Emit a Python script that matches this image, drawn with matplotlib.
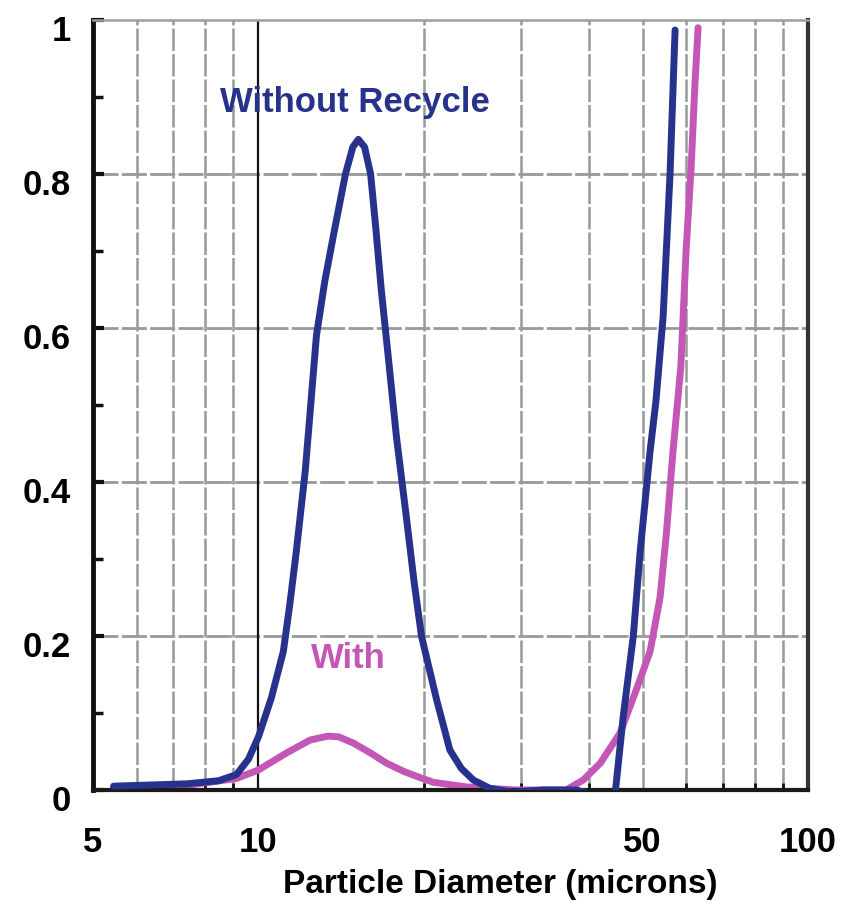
import matplotlib
matplotlib.use("Agg")
import matplotlib.pyplot as plt
import matplotlib.transforms as mtransforms
from matplotlib.ticker import FixedLocator, NullFormatter, FixedFormatter

plt.rcParams['font.family'] = ['Liberation Sans', 'DejaVu Sans']
plt.rcParams['font.weight'] = 'bold'

# Data
without_x = [5.45, 7.4, 8.46, 9.12, 9.59, 10.0, 10.56, 11.1, 11.4, 11.72, 12.17, 12.75, 13.2,
             13.69, 14.4, 14.85, 15.2, 15.6, 16.0, 16.35, 16.73, 17.3, 17.82, 18.58, 19.2,
             19.8, 21.1, 22.3, 23.4, 24.6, 26.4, 29.1, 32.9, 37.9, 40.5, 41.9, 43.5, 44.6,
             46.1, 48.1, 49.5, 51.6, 52.9, 54.5, 56.1, 57.3]
without_y = [0.005, 0.008, 0.012, 0.02, 0.04, 0.069, 0.12, 0.18, 0.24, 0.31, 0.415, 0.59, 0.66,
             0.72, 0.80, 0.835, 0.845, 0.835, 0.80, 0.73, 0.65, 0.55, 0.46, 0.355, 0.27,
             0.20, 0.117, 0.052, 0.028, 0.013, 0.002, -0.003, 0.0, 0.0, -0.006, -0.01, -0.01,
             -0.003, 0.095, 0.2, 0.31, 0.44, 0.506, 0.615, 0.80, 0.987]

with_x = [5.45, 7.4, 9.12, 10.0, 11.24, 12.43, 13.4, 14.0, 14.88, 16.0, 17.09, 18.4, 19.7,
          20.8, 23.9, 29.4, 36.3, 39.0, 41.9, 45.5, 48.7, 51.6, 53.8, 55.2, 56.8,
          58.7, 60.0, 61.3, 62.3, 63.1]
with_y = [0.003, 0.006, 0.015, 0.026, 0.048, 0.065, 0.07, 0.069, 0.061, 0.048, 0.035, 0.024,
          0.016, 0.01, 0.004, 0.0, 0.0, 0.013, 0.035, 0.074, 0.13, 0.18, 0.25, 0.33, 0.44,
          0.55, 0.70, 0.81, 0.92, 0.99]

x_major = [5, 10, 50, 100]
x_major_labels = ['5', '10', '50', '100']
x_grid = [6, 7, 8, 9, 20, 30, 40, 50, 60, 70, 80, 90]
y_major = [0, 0.2, 0.4, 0.6, 0.8, 1.0]
y_major_labels = ['0', '0.2', '0.4', '0.6', '0.8', '1']
y_minor = [0.1, 0.3, 0.5, 0.7, 0.9]

BLUE = '#27328c'
MAGENTA = '#c457b6'
GRID = '#959b97'

fig = plt.figure(figsize=(8.65, 9.02), dpi=100)
ax = fig.add_axes([93/865, 1 - 790/902, (808-93)/865, (790-20)/902])

ax.set_xscale('log')
ax.set_xlim(5, 100)
ax.set_ylim(0, 1)

# grid
for gx in x_grid:
    ax.axvline(gx, color=GRID, lw=1.8, ls=(0, (9, 1.2)), zorder=1)
for gy in y_major[1:-1]:
    ax.axhline(gy, color=GRID, lw=2.0, ls=(0, (9, 1.2)), zorder=1)
ax.axvline(10, color='#111111', lw=1.6, zorder=1.5)

ax.plot(without_x, without_y, color=BLUE, lw=5, solid_capstyle='round',
        solid_joinstyle='round', zorder=3)
ax.plot(with_x, with_y, color=MAGENTA, lw=5, solid_capstyle='round',
        solid_joinstyle='round', zorder=2.5)

ax.text(15.0, 0.893, 'Without Recycle', color=BLUE, fontsize=25, fontweight='bold',
        ha='center', va='center')
ax.text(14.57, 0.171, 'With', color=MAGENTA, fontsize=25, fontweight='bold',
        ha='center', va='center')

# spines
ax.spines['left'].set_linewidth(3.5)
ax.spines['left'].set_color('#111111')
ax.spines['bottom'].set_linewidth(3.0)
ax.spines['bottom'].set_color('#1a1a1a')
ax.spines['right'].set_linewidth(3.0)
ax.spines['right'].set_color('#333333')
ax.spines['top'].set_linewidth(1.8)
ax.spines['top'].set_color('#9aa09c')

# ticks
ax.xaxis.set_major_locator(FixedLocator(x_major))
ax.xaxis.set_major_formatter(FixedFormatter(x_major_labels))
ax.xaxis.set_minor_locator(FixedLocator(x_grid))
ax.xaxis.set_minor_formatter(NullFormatter())
ax.yaxis.set_major_locator(FixedLocator(y_major))
ax.yaxis.set_major_formatter(FixedFormatter(y_major_labels))
ax.yaxis.set_minor_locator(FixedLocator(y_minor))

ax.tick_params(axis='both', which='both', direction='in', color='#111111')
ax.tick_params(axis='x', which='major', length=0, pad=26, labelsize=25)
ax.tick_params(axis='x', which='minor', length=5, width=2)
ax.tick_params(axis='y', which='major', length=8, width=3, pad=16, labelsize=25)
ax.tick_params(axis='y', which='minor', length=7, width=2.5)
ax.tick_params(top=False, right=False, which='both')

off = mtransforms.ScaledTranslation(0, -8/100, fig.dpi_scale_trans)
for lab in ax.get_yticklabels():
    lab.set_transform(lab.get_transform() + off)
    lab.set_fontweight('bold')
for lab in ax.get_xticklabels():
    lab.set_fontweight('bold')

ax.set_xlabel('Particle Diameter (microns)', fontsize=24, fontweight='bold')
ax.xaxis.set_label_coords((500-93)/715, (790-884)/770)
ax.xaxis.label.set_va('center')

fig.savefig('out.png', dpi=100)
